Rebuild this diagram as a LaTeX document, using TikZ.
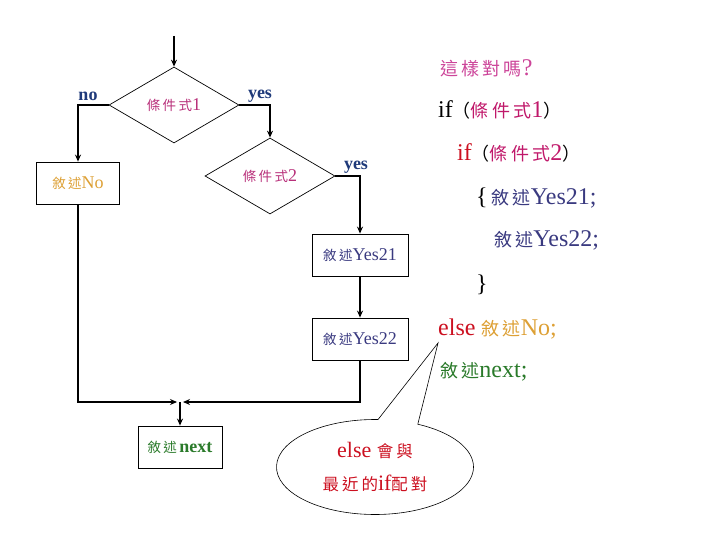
\documentclass[tikz,border=0pt]{standalone}
\usepackage{fontspec}
\setmainfont{Liberation Serif}
\newfontfamily\cjkfont{Noto Sans CJK TC}[Scale=0.75,LetterSpace=18]
\newcommand{\zh}[1]{{\cjkfont #1}}
\usetikzlibrary{shapes.geometric,shapes.callouts,arrows.meta}
\definecolor{navy}{HTML}{1F3A7A}
\definecolor{condc}{HTML}{B8307A}
\definecolor{condr}{HTML}{C0186A}
\definecolor{stmt}{HTML}{3A3A80}
\definecolor{goldc}{HTML}{DDA035}
\definecolor{greenc}{HTML}{2A7A2A}
\definecolor{qpink}{HTML}{CC4499}
\definecolor{kred}{HTML}{CC1020}
\tikzset{
  flow/.style={line width=2pt,-{Stealth[length=7pt,width=6pt]}},
  dia/.style={diamond,draw,line width=0.7pt,inner sep=0pt,minimum width=130pt,minimum height=76pt,font=\fontsize{18}{20}\selectfont,text=condc},
  stbox/.style={rectangle,draw,line width=0.8pt,inner sep=0pt,minimum height=42pt,font=\fontsize{18}{20}\selectfont},
  lab/.style={font=\fontsize{18}{20}\selectfont\bfseries,text=navy,inner sep=0pt},
  rt/.style={anchor=west,inner sep=0pt,font=\fontsize{24}{28}\selectfont},
}
\begin{document}
\begin{tikzpicture}[x=1pt,y=-1pt]
\useasboundingbox (0,0) rectangle (720,540);
% flowchart
\coordinate (top) at (174,36);
\node[dia] (d1) at (174,105) {\zh{條件式}1};
\node[dia] (d2) at (270,176) {\zh{條件式}2};
\node[stbox,minimum width=83pt,text=goldc] (bNo) at (78,183) {\zh{敘述}No};
\node[stbox,minimum width=96pt,text=stmt] (b21) at (360,255) {\zh{敘述}Yes21};
\node[stbox,minimum width=96pt,text=stmt] (b22) at (360,339) {\zh{敘述}Yes22};
\node[stbox,minimum width=84pt,text=greenc] (bnext) at (180,447) {\zh{敘述}\textbf{next}};
\coordinate (m) at (180,402);
\coordinate (mL) at (177,402);
\coordinate (mR) at (183,402);
\node[lab] (no) at (88,96) {no};
\node[lab] (yes1) at (260,96) {yes};
\node[lab] (yes2) at (356,167) {yes};
\draw[flow] (top) -- (d1.north);
\draw[flow] (d1.west) -| (bNo.north);
\draw[flow] (d1.east) -| (d2.north);
\draw[flow] (d2.east) -| (b21.north);
\draw[flow] (b21.south) -- (b22.north);
\draw[flow] (bNo.south) |- (mL);
\draw[flow] (b22.south) |- (mR);
\draw[flow] (m) -- (bnext.north);
% callout
\node[ellipse callout,draw,line width=0.6pt,minimum width=197pt,minimum height=95pt,inner sep=0pt,
      callout absolute pointer={(438,343)},callout pointer arc=24,align=center,
      font=\fontsize{22}{33}\selectfont,text=kred] (call) at (375,467)
      {else \zh{會與}\\\zh{最近的}if\zh{配對}};
% code text
\node[rt] (q) at (440,68) {\textcolor{qpink}{\zh{這樣對嗎}?}};
\node[rt] (l1) at (438,110) {if\zh{（}\textcolor{condr}{\zh{條件式}1}\zh{）}};
\node[rt] (l2) at (457,153) {\textcolor{kred}{if}\zh{（}\textcolor{condr}{\zh{條件式}2}\zh{）}};
\node[rt] (l3) at (476,198) {\{\,\textcolor{stmt}{\zh{敘述}Yes21;}};
\node[rt] (l4) at (494,240) {\textcolor{stmt}{\zh{敘述}Yes22;}};
\node[rt] (l5) at (476,285) {\}};
\node[rt] (l6) at (438,329) {\textcolor{kred}{else} \textcolor{goldc}{\zh{敘述}No;}};
\node[rt] (l7) at (440,372) {\textcolor{greenc}{\zh{敘述}next;}};
\end{tikzpicture}
\end{document}
